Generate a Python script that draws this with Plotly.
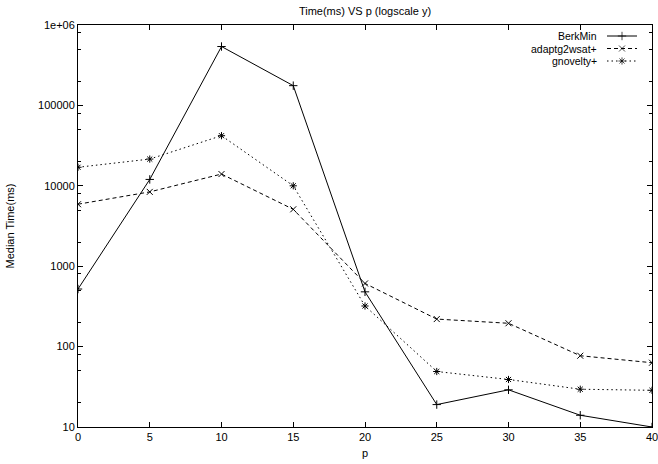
import plotly.graph_objects as go

# Median runtime (ms) of each solver against p
p = [0, 5, 10, 15, 20, 25, 30, 35, 40]
berkmin = [520, 12000, 540000, 176000, 480, 19, 29, 14, 10]
adaptg2wsat = [5900, 8400, 14000, 5100, 610, 220, 195, 77, 63]
gnovelty = [17000, 21500, 42000, 10000, 320, 49, 39, 29.5, 28.6]

series_names = ["BerkMin", "adaptg2wsat+", "gnovelty+"]
y_tick_vals = [10, 100, 1000, 10000, 100000, 1000000]
y_tick_text = ["10", "100", "1000", "10000", "100000", "1e+06"]
x_tick_vals = [0, 5, 10, 15, 20, 25, 30, 35, 40]

FONT = "Liberation Sans, Arial, Helvetica, sans-serif"

styles = [
    dict(dash="solid", symbol="cross-thin-open"),
    dict(dash="4px,3px", symbol="x-thin-open"),
    dict(dash="1.5px,3px", symbol="asterisk-open"),
]
MSIZE = 6

fig = go.Figure()
for name, vals, st in zip(series_names, [berkmin, adaptg2wsat, gnovelty], styles):
    fig.add_trace(go.Scatter(
        x=p, y=vals, name=name, mode="lines+markers",
        line=dict(color="black", width=1, dash=st["dash"]),
        marker=dict(symbol=st["symbol"], size=MSIZE, color="black",
                    line=dict(color="black", width=1)),
        showlegend=False,
    ))

# Key in the upper-right corner: right-aligned label, then a line sample
# with the marker in its middle (drawn on a pixel-scaled overlay axis).
key_rows = [36, 48.5, 61]
for name, st, ky in zip(series_names, styles, key_rows):
    fig.add_trace(go.Scatter(
        x=[607, 622, 637], y=[ky, ky, ky], xaxis="x2", yaxis="y2",
        mode="lines+markers", hoverinfo="skip", showlegend=False,
        line=dict(color="black", width=1, dash=st["dash"]),
        marker=dict(symbol=st["symbol"], size=[0, MSIZE, 0], color="black",
                    line=dict(color="black", width=1)),
    ))
    fig.add_annotation(
        x=599, y=ky, xref="x2", yref="y2", text=name, showarrow=False,
        xanchor="right", yanchor="middle",
        font=dict(family=FONT, size=10.5, color="black"),
    )

minor_vals = [m * 10 ** k for k in range(1, 6) for m in (2, 5, 8)]

fig.update_layout(
    width=658, height=464,
    margin=dict(l=78, r=6, t=25, b=37, autoexpand=False),
    paper_bgcolor="white", plot_bgcolor="white",
    font=dict(family=FONT, size=11, color="black"),
    title=dict(text="Time(ms) VS p (logscale y)", x=(78 + 652) / 2 / 658,
               xanchor="center", y=1 - 11 / 464, yanchor="middle",
               font=dict(family=FONT, size=11, color="black")),
    xaxis=dict(
        range=[0, 40], tickvals=x_tick_vals, ticks="inside", ticklen=5,
        tickwidth=1, tickcolor="black", showline=True, linecolor="black",
        linewidth=1, mirror="ticks", showgrid=False, zeroline=False,
        ticklabeloverflow="allow", automargin=False,
        title=dict(text="p", standoff=7, font=dict(family=FONT, size=11)),
        tickfont=dict(family=FONT, size=11),
    ),
    yaxis=dict(
        type="log", range=[1, 6], tickvals=y_tick_vals, ticktext=y_tick_text,
        ticks="inside", ticklen=5, tickwidth=1, tickcolor="black",
        showline=True, linecolor="black", linewidth=1, mirror="ticks",
        showgrid=False, zeroline=False, ticklabeloverflow="allow",
        automargin=False,
        minor=dict(tickmode="array", tickvals=minor_vals, ticks="inside",
                   ticklen=3, tickwidth=1, tickcolor="black", showgrid=False),
        title=dict(text="Median Time(ms)", standoff=21,
                   font=dict(family=FONT, size=11)),
        tickfont=dict(family=FONT, size=11),
    ),
    xaxis2=dict(overlaying="x", range=[78, 652], visible=False,
                fixedrange=True, automargin=False),
    yaxis2=dict(overlaying="y", range=[427, 25], visible=False,
                fixedrange=True, automargin=False),
)

fig.write_html("out.html")
